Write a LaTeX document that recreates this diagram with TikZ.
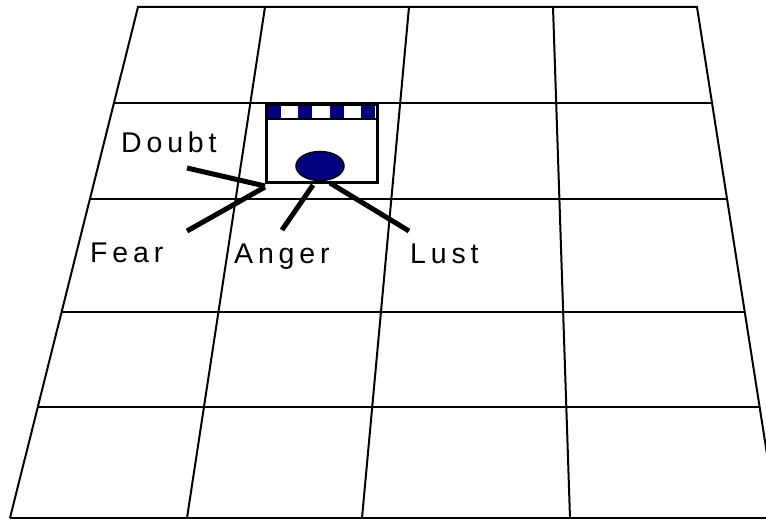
\documentclass[tikz,border=0pt]{standalone}
\usepackage{fontspec}
\setmainfont{Liberation Sans}
\usetikzlibrary{calc,shapes.geometric}
\definecolor{navyfill}{RGB}{0,0,128}
\begin{document}
\begin{tikzpicture}[x=1pt,y=-1pt,
  gridline/.style={line width=2pt},
  conn/.style={line width=5pt},
  lbl/.style={anchor=base west, inner sep=0pt, font=\fontsize{28.5}{34}\selectfont\addfontfeatures{LetterSpace=17}},
  sq/.style={fill=navyfill, draw=none},
]
\useasboundingbox (0,0) rectangle (766,519);
\clip (0,0) rectangle (766,519);
% floor grid
\coordinate (TL) at (138,7);
\coordinate (TR) at (697,7);
\coordinate (BL) at (10,518);
\coordinate (BR) at (777,518);
\draw[gridline, line join=miter] (BL) -- (TL) -- (TR) -- (BR);
\draw[gridline] (265,7) -- (187,518);
\draw[gridline] (409,7) -- (362,518);
\draw[gridline] (553,7) -- (570,518);
\foreach \t in {0.1879,0.3757,0.5969,0.7828,1}
  \draw[gridline] ($(TL)!\t!(BL)$) -- ($(TR)!\t!(BR)$);
% squares on top of the box
\foreach \c in {273.5,305,336.5,368}
  \fill[sq] (\c-7,103) rectangle (\c+7,119);
% box
\node[draw, line width=3pt, minimum width=111pt, minimum height=78pt, inner sep=0pt, anchor=north west] (box) at (265,103) {};
\draw[line width=2.5pt] ($(box.north west)+(0,16)$) -- ($(box.north east)+(0,16)$);
% ellipse
\node[ellipse, draw, line width=1.5pt, fill=navyfill, minimum width=48pt, minimum height=29pt, inner sep=0pt] (ell) at (320,166) {};
% labels
\node[lbl] (doubt) at (121,152) {Doubt};
\node[lbl] (fear) at (90,262) {Fear};
\node[lbl] (anger) at (234,263) {Anger};
\node[lbl] (lust) at (410,263) {Lust};
% connector ends
\coordinate (dEnd) at (187,168);
\coordinate (fEnd) at (187,231);
\coordinate (aStart) at (313,185);
\coordinate (aEnd) at (282,230);
\coordinate (lStart) at (330,183);
\coordinate (lEnd) at (409,231);
\draw[conn] ($(box.south west)+(0,2)$) -- (dEnd);
\draw[conn] ($(box.south west)+(0,3)$) -- (fEnd);
\draw[conn] (aStart) -- (aEnd);
\draw[conn] (lStart) -- (lEnd);
\end{tikzpicture}
\end{document}
